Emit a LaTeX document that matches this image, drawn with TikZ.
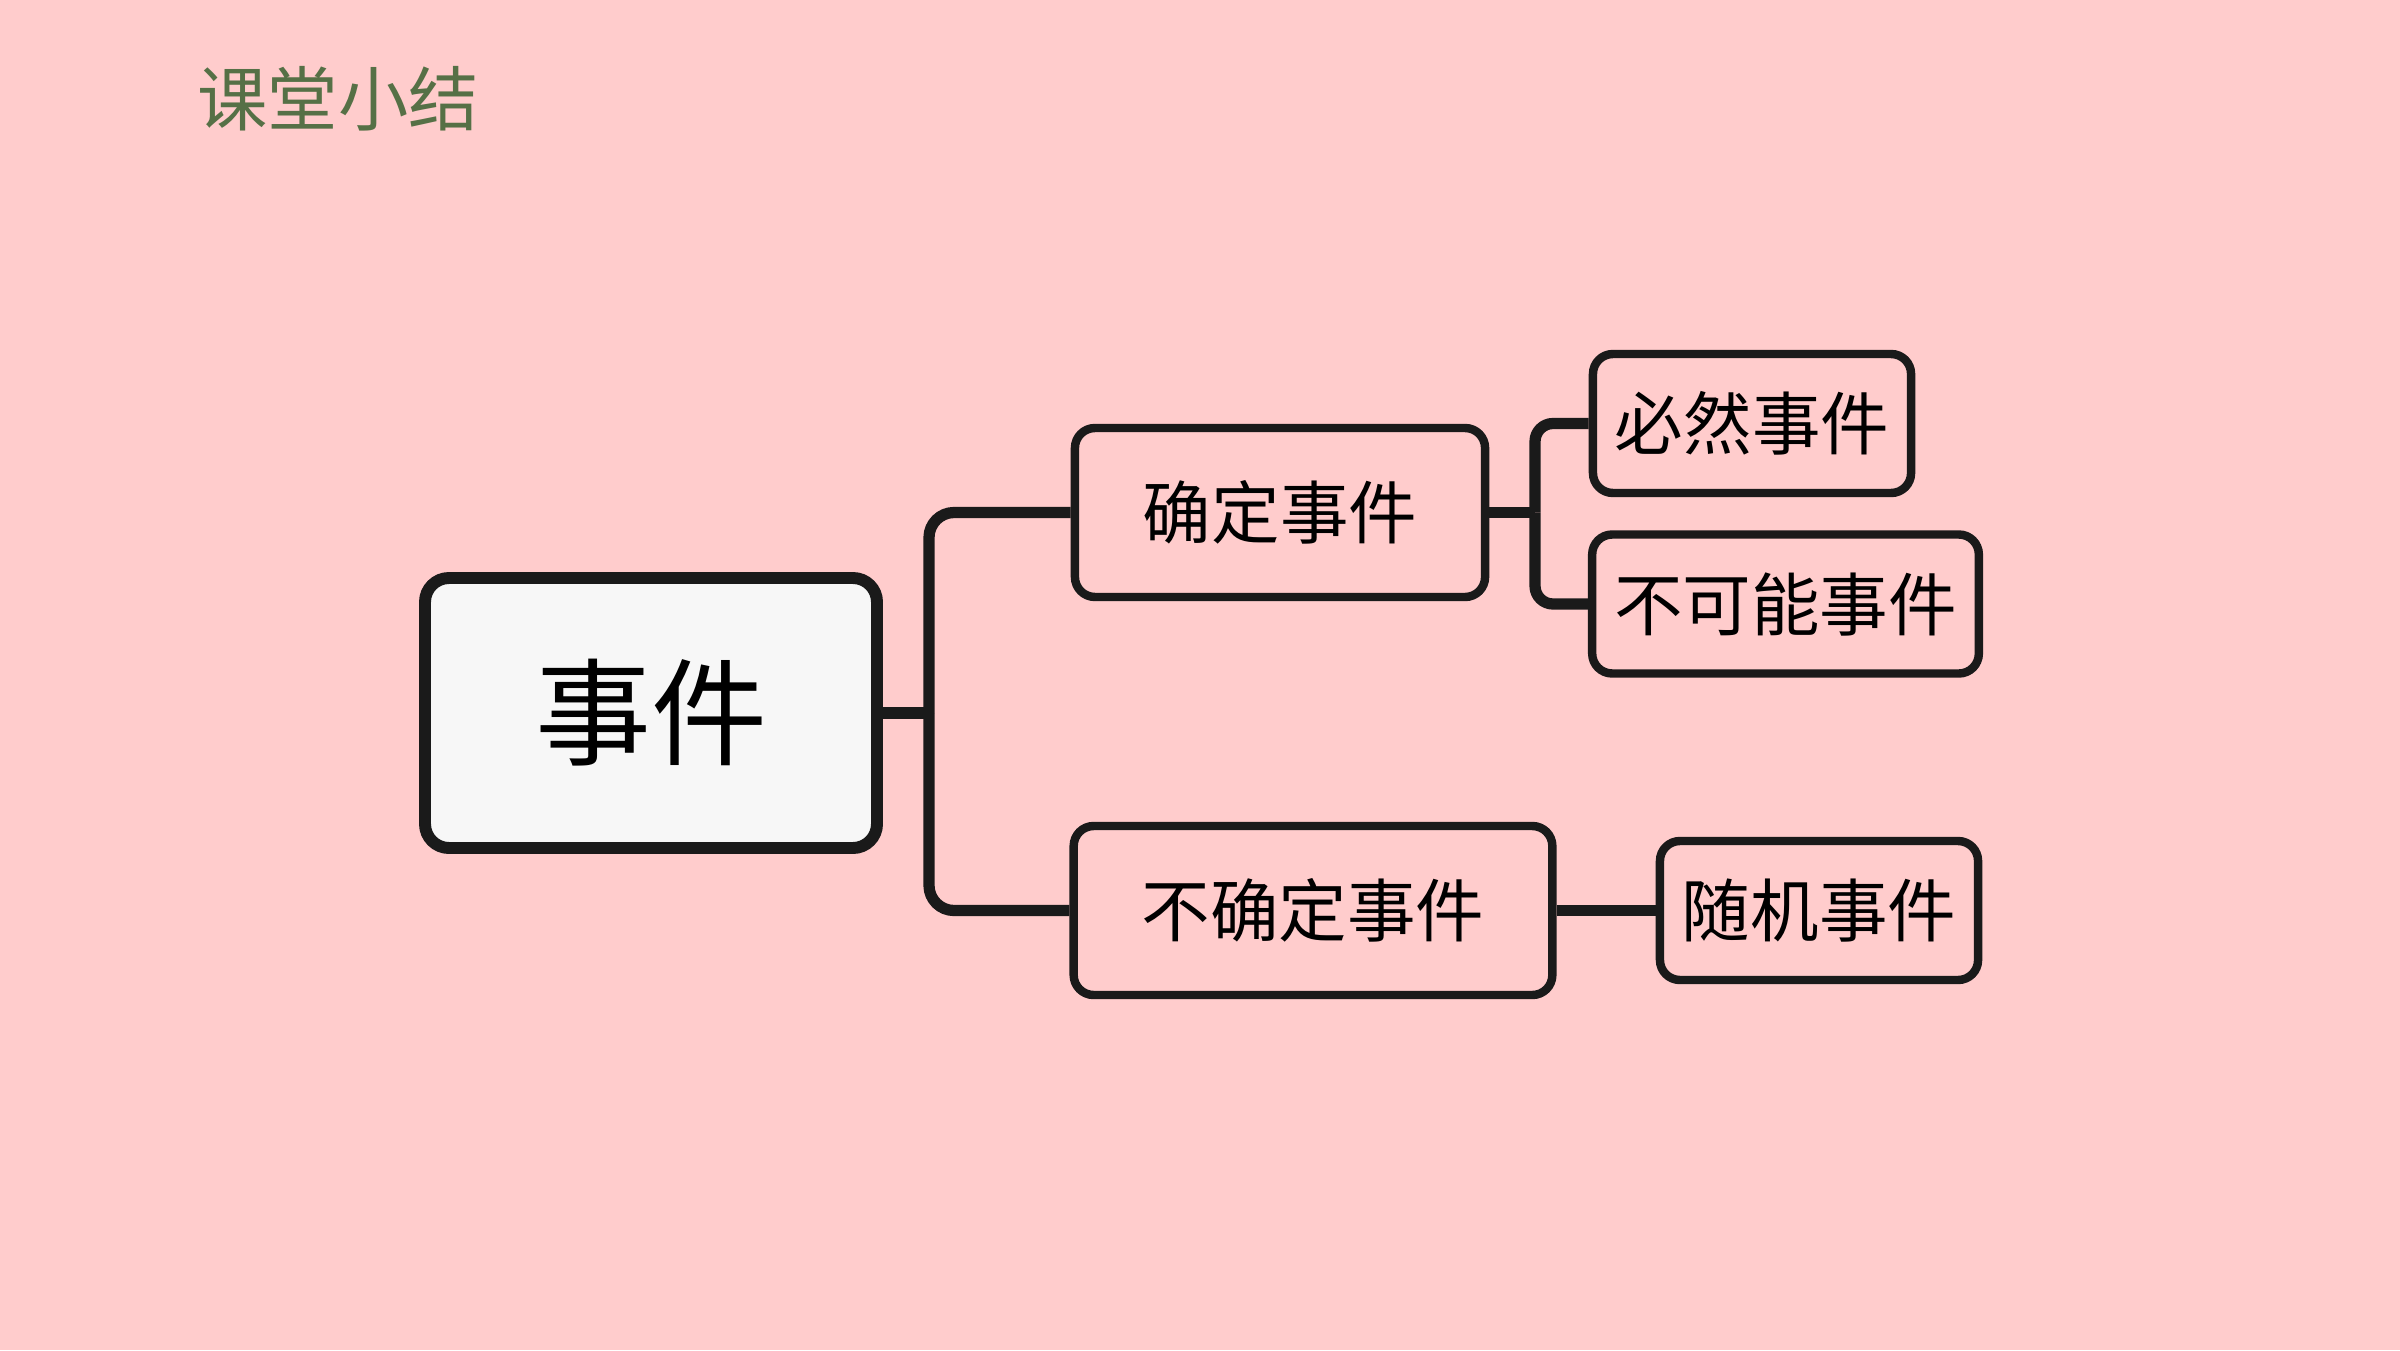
\documentclass[tikz,border=0pt]{standalone}
\usepackage{fontspec}
\setmainfont{Noto Sans CJK SC}
\usepackage{tikz}

\definecolor{slidepink}{RGB}{255,204,204}
\definecolor{titlegreen}{RGB}{86,112,70}
\definecolor{rootfill}{RGB}{247,247,247}
\definecolor{inkdark}{RGB}{26,26,26}

\begin{document}
\begin{tikzpicture}[line join=round]
            \tikzstyle{root}=[rectangle,rounded corners=0.24cm,draw=inkdark,line width=3.4pt,fill=rootfill,minimum width=4.52cm,minimum height=2.70cm,inner sep=0pt,font=\fontsize{33pt}{33pt}\selectfont]
            \tikzstyle{branch}=[rectangle,rounded corners=0.2cm,draw=inkdark,line width=2.4pt,minimum height=1.69cm,inner xsep=0.68cm,inner ysep=0pt,font=\fontsize{19.5pt}{19.5pt}\selectfont]
            \tikzstyle{leaf}=[branch,minimum height=1.39cm,inner xsep=0.22cm]
            \tikzstyle{link}=[draw=inkdark,line width=3.2pt]
                    \fill[slidepink] (0,0) rectangle (24,13.5);
                    \useasboundingbox (0,0) rectangle (24,13.5);

                    \node[text=titlegreen,font=\fontsize{20pt}{20pt}\selectfont] (T-0) at (3.38, 12.51){课堂小结};

                    \node[root] (E-0) at (6.51, 6.37){事件};

                    \node[branch] (E-1) at (12.80, 8.375){确定事件};
                    \node[branch] (E-2) at (13.13, 4.395){不确定事件};

                    \node[leaf] (E-3) at (17.52, 9.265){必然事件};
                    \node[leaf] (E-4) at (17.855, 7.46){不可能事件};
                    \node[leaf] (E-5) at (18.19, 4.395){随机事件};

                    \coordinate (J-0) at (9.29, 6.37);
                    \coordinate (J-1) at (15.35, 8.375);

                \draw[link] (E-0.east) -- (J-0);
                \foreach \to in {1, 2}
                    \draw[link,rounded corners=0.25cm] (J-0) |- (E-\to.west);
                \draw[link] (E-1.east) -- (J-1);
                \foreach \to in {3, 4}
                    \draw[link,rounded corners=0.18cm] (J-1) |- (E-\to.west);
                \draw[link] (E-2.east) -- (E-5.west);
        \end{tikzpicture}
\end{document}
